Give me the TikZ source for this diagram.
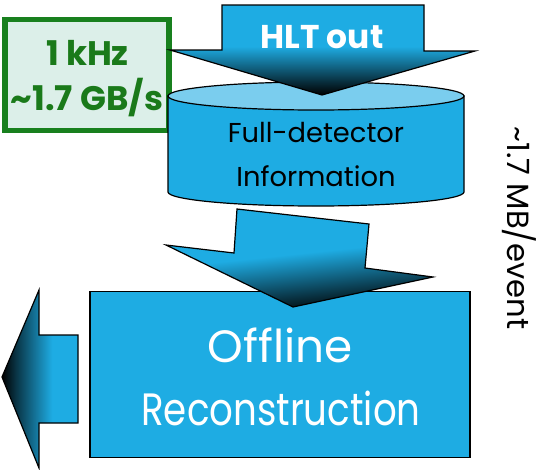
\documentclass[tikz,border=0pt]{standalone}
\usepackage{fontspec}
\setmainfont{Poppins}
\definecolor{cblue}{RGB}{30,172,227}
\definecolor{ctop}{RGB}{122,205,238}
\definecolor{gfill}{RGB}{220,239,233}
\definecolor{gline}{RGB}{24,128,30}
\definecolor{gtext}{RGB}{26,122,26}
\pgfdeclareverticalshading{downshade}{100bp}{color(0bp)=(black); color(25bp)=(black); color(32bp)=(black!75!cblue); color(52bp)=(cblue); color(100bp)=(cblue)}
\pgfdeclarehorizontalshading{leftshade}{100bp}{color(0bp)=(black); color(25bp)=(black); color(34bp)=(black!70!cblue); color(58bp)=(cblue); color(100bp)=(cblue)}
\tikzset{
  outline/.style={draw=black, line width=0.9pt, line join=miter},
  bigarrow/.style={outline, shading=downshade},
  lbl/.style={inner sep=0pt, anchor=base},
}
\begin{document}
\begin{tikzpicture}[x=0.75pt, y=-0.75pt]
\useasboundingbox (0,0) rectangle (544,469);
% green rate box
\node (ratebox) [draw=gline, fill=gfill, line width=3.8pt, minimum width=123pt, minimum height=83pt, inner sep=0pt] at (87,75) {};
\node (rate1) [lbl, text=gtext, font=\bfseries\fontsize{25.5}{28}\selectfont] at (87.5,65) {1 kHz};
\node (rate2) [lbl, text=gtext, font=\bfseries\fontsize{25.5}{28}\selectfont] at (87,110) {\textasciitilde1.7 GB/s};
% cylinder
\path[outline, fill=cblue] (168,96) -- (168,192)
  .. controls (168,199.7) and (234.3,206) .. (316,206)
  .. controls (397.7,206) and (464,199.7) .. (464,192) -- (464,96) -- cycle;
\path[outline, fill=ctop] (316,96) ellipse [x radius=148, y radius=14];
\node (info1) [lbl, font=\fontsize{20.5}{24}\selectfont] at (316,142) {Full-detector};
\node (info2) [lbl, font=\fontsize{20.5}{24}\selectfont] at (316,186) {Information};
% HLT out arrow
\path[bigarrow] (222,5) -- (424,5) -- (424,51) -- (475,51) -- (322,95) -- (170,50) -- (222,50) -- cycle;
\node (hlt) [lbl, text=white, font=\bfseries\fontsize{24.7}{28}\selectfont] at (322,48) {HLT out};
% offline box
\node (offline) [outline, fill=cblue, minimum width=285pt, minimum height=125pt, inner sep=0pt] at (280,374.5) {};
\node (off1) [lbl, text=white, font=\fontsize{34}{40}\selectfont] at (280,362) {Offline};
\node (off2) [lbl, text=white, font=\fontsize{34}{40}\selectfont] at (281,425) {\scalebox{0.82}[1]{Reconstruction}};
% second arrow
\path[bigarrow, shading angle=6] (237,209) -- (369,224) -- (365,268) -- (433,277) -- (293,307) -- (166,245) -- (234,253) -- cycle;
% left arrow
\path[outline, shading=leftshade] (2,377) -- (39,290) -- (39,335) -- (78,335) -- (78,423) -- (39,423) -- (39,468) -- cycle;
% side label
\node (size) [inner sep=0pt, rotate=-90, font=\fontsize{23}{26}\selectfont] at (519,228) {\textasciitilde1.7 MB/event};
\end{tikzpicture}
\end{document}
